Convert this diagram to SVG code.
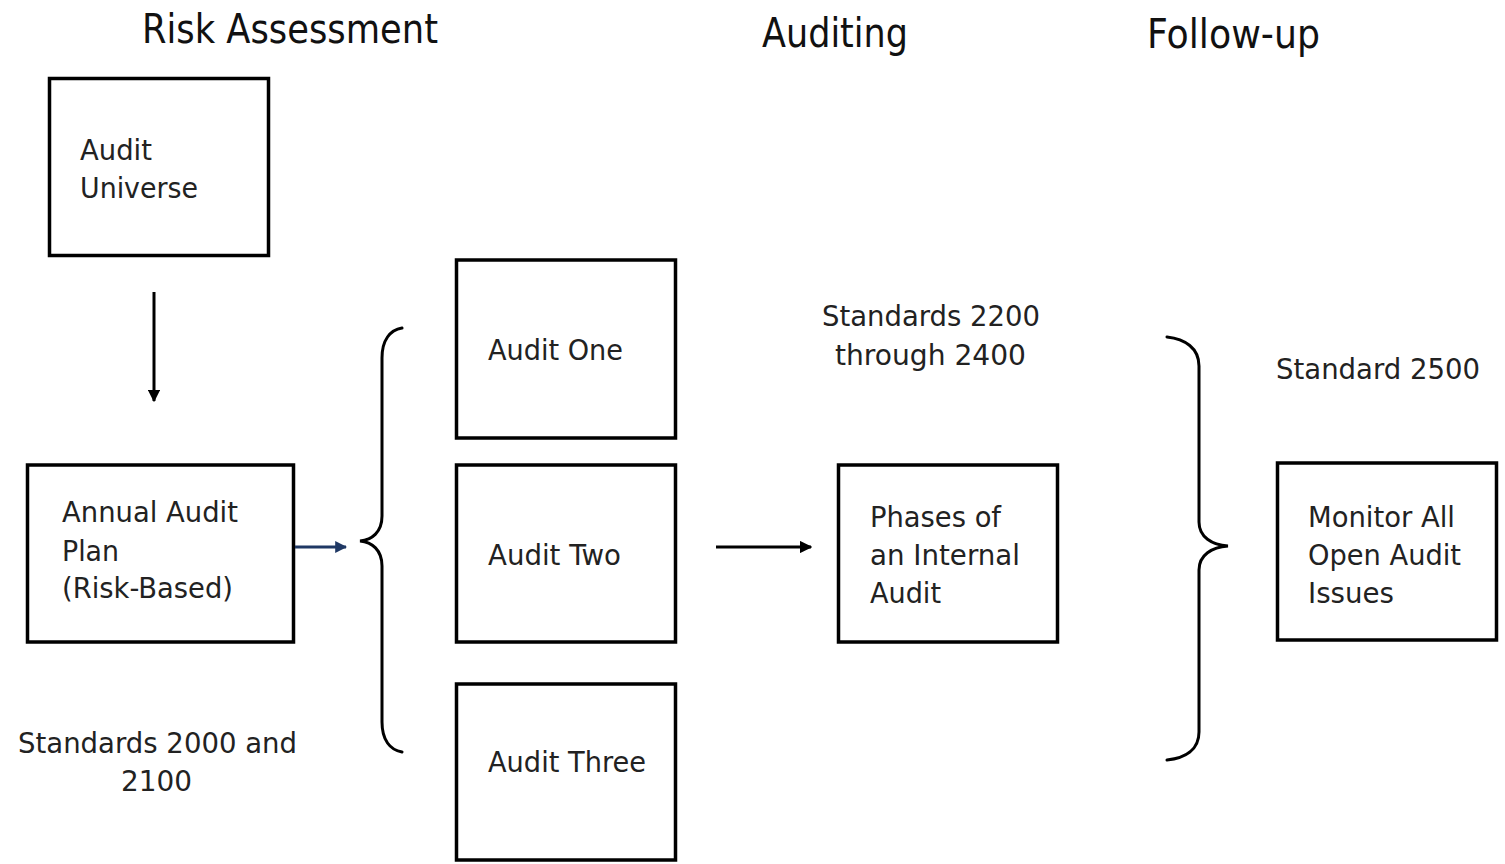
<svg xmlns="http://www.w3.org/2000/svg" width="1505" height="864" viewBox="0 0 1505 864">
  <style>
    .box { fill: #ffffff; stroke: #000000; stroke-width: 3.5; }
    .txt { font-family: "DejaVu Sans", Verdana, sans-serif; font-size: 29px; fill: #222222; }
    .title { font-family: "DejaVu Sans", Verdana, sans-serif; font-size: 40px; fill: #111111; }
    .brace { fill: none; stroke: #000000; stroke-width: 3; stroke-linecap: round; }
    .conn { fill: none; stroke: #000000; stroke-width: 3; }
    .conn-blue { fill: none; stroke: #1f3864; stroke-width: 3; }
  </style>
  <defs>
    <marker id="head" viewBox="0 0 10 10" refX="9" refY="5" markerWidth="4.2" markerHeight="4.2" orient="auto" markerUnits="strokeWidth">
      <path d="M0,0 L10,5 L0,10 Z" fill="#000000"/>
    </marker>
    <marker id="head-blue" viewBox="0 0 10 10" refX="9" refY="5" markerWidth="4" markerHeight="4" orient="auto" markerUnits="strokeWidth">
      <path d="M0,0 L10,5 L0,10 Z" fill="#1f3864"/>
    </marker>
  </defs>
  <rect width="1505" height="864" fill="#ffffff"/>

  <!-- column headings -->
  <g id="headings">
    <text class="title" x="142" y="43" textLength="296" lengthAdjust="spacingAndGlyphs">Risk Assessment</text>
    <text class="title" x="762" y="47" textLength="146" lengthAdjust="spacingAndGlyphs">Auditing</text>
    <text class="title" x="1147" y="48" textLength="173" lengthAdjust="spacingAndGlyphs">Follow-up</text>
  </g>

  <!-- standards labels -->
  <g id="labels">
    <text class="txt" x="18" y="753" textLength="279" lengthAdjust="spacingAndGlyphs">Standards 2000 and</text>
    <text class="txt" x="121" y="791" textLength="71" lengthAdjust="spacingAndGlyphs">2100</text>
    <text class="txt" x="822" y="326" textLength="218" lengthAdjust="spacingAndGlyphs">Standards 2200</text>
    <text class="txt" x="835" y="365" textLength="191" lengthAdjust="spacingAndGlyphs">through 2400</text>
    <text class="txt" x="1276" y="379" textLength="204" lengthAdjust="spacingAndGlyphs">Standard 2500</text>
  </g>

  <g id="audit-universe">
    <rect class="box" x="49.5" y="78.5" width="219" height="177"/>
    <text class="txt" x="80" y="160" textLength="72" lengthAdjust="spacingAndGlyphs">Audit</text>
    <text class="txt" x="80" y="198" textLength="118" lengthAdjust="spacingAndGlyphs">Universe</text>
  </g>

  <g id="annual-audit-plan">
    <rect class="box" x="27.5" y="465" width="266" height="177"/>
    <text class="txt" x="62" y="522" textLength="176" lengthAdjust="spacingAndGlyphs">Annual Audit</text>
    <text class="txt" x="62" y="561" textLength="57" lengthAdjust="spacingAndGlyphs">Plan</text>
    <text class="txt" x="62" y="598" textLength="171" lengthAdjust="spacingAndGlyphs">(Risk-Based)</text>
  </g>

  <g id="audit-one">
    <rect class="box" x="456.5" y="260" width="219" height="178"/>
    <text class="txt" x="488" y="360" textLength="135" lengthAdjust="spacingAndGlyphs">Audit One</text>
  </g>

  <g id="audit-two">
    <rect class="box" x="456.5" y="465" width="219" height="177"/>
    <text class="txt" x="488" y="565" textLength="133" lengthAdjust="spacingAndGlyphs">Audit Two</text>
  </g>

  <g id="audit-three">
    <rect class="box" x="456.5" y="684" width="219" height="176"/>
    <text class="txt" x="488" y="772" textLength="158" lengthAdjust="spacingAndGlyphs">Audit Three</text>
  </g>

  <g id="phases">
    <rect class="box" x="838.5" y="465" width="219" height="177"/>
    <text class="txt" x="870" y="527" textLength="131" lengthAdjust="spacingAndGlyphs">Phases of</text>
    <text class="txt" x="870" y="565" textLength="150" lengthAdjust="spacingAndGlyphs">an Internal</text>
    <text class="txt" x="870" y="603" textLength="71" lengthAdjust="spacingAndGlyphs">Audit</text>
  </g>

  <g id="monitor">
    <rect class="box" x="1277.5" y="463" width="219" height="177"/>
    <text class="txt" x="1308" y="527" textLength="147" lengthAdjust="spacingAndGlyphs">Monitor All</text>
    <text class="txt" x="1308" y="565" textLength="153" lengthAdjust="spacingAndGlyphs">Open Audit</text>
    <text class="txt" x="1308" y="603" textLength="86" lengthAdjust="spacingAndGlyphs">Issues</text>
  </g>

  <!-- connectors: arrows and grouping braces -->
  <g id="connectors">
    <line class="conn" x1="154" y1="292" x2="154" y2="401" marker-end="url(#head)"/>
    <line class="conn-blue" x1="295" y1="547" x2="346" y2="547" marker-end="url(#head-blue)"/>
    <line class="conn" x1="716" y1="547" x2="811" y2="547" marker-end="url(#head)"/>
    <path class="brace" d="M402,328 C390,330 382,340 382,358 L382,516 C382,532 372,540 360,541 C372,542 382,550 382,566 L382,722 C382,740 390,750 402,752"/>
    <path class="brace" d="M1167,337 C1185,339 1199,348 1199,366 L1199,522 C1199,537 1212,545 1228,546 C1212,547 1199,555 1199,570 L1199,732 C1199,750 1185,758 1167,760"/>
  </g>
</svg>
